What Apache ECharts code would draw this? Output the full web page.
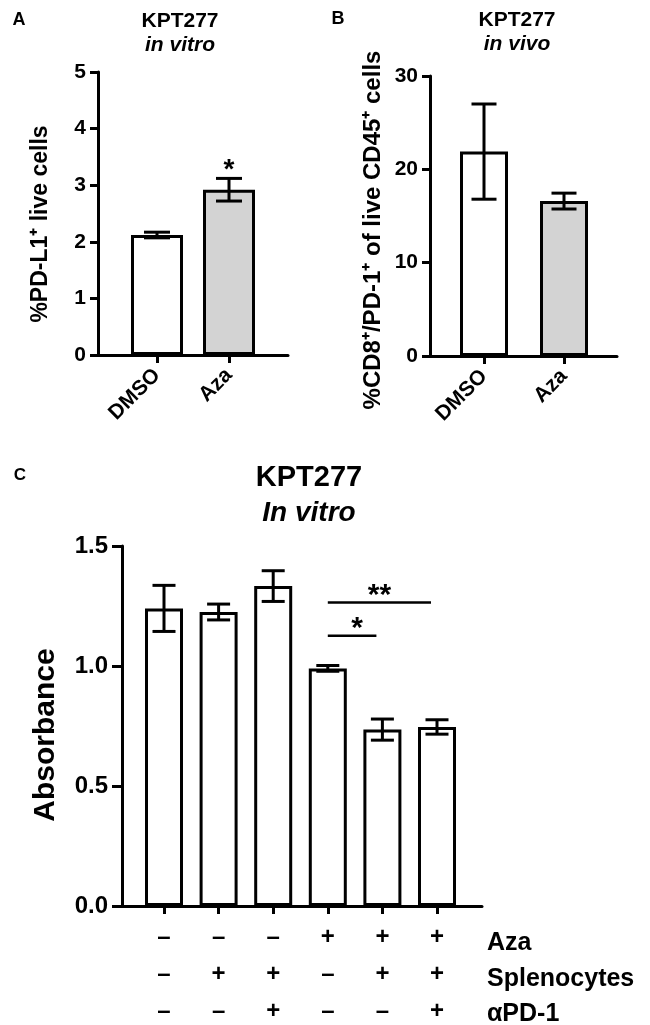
<!DOCTYPE html>
<html>
<head>
<meta charset="utf-8">
<script src="https://cdn.jsdelivr.net/npm/echarts@6/dist/echarts.min.js"></script>
<style>html,body{margin:0;padding:0;background:#fff}#c{width:650px;height:1025px}</style>
</head>
<body>
<div id="c"></div>
<script>
// ---- data ----
const catsA = ['DMSO', 'Aza'];
const meanA = [2.12, 2.92];
const errA  = [0.05, 0.20];
const starA = ['', '*'];

const catsB = ['DMSO', 'Aza'];
const meanB = [21.9, 16.6];
const errB  = [5.1, 0.85];

const condAza = ['–', '–', '–', '+', '+', '+'];
const condSpl = ['–', '+', '+', '–', '+', '+'];
const condPD1 = ['–', '–', '+', '–', '–', '+'];
const rowNames = ['Aza', 'Splenocytes', 'αPD-1'];
const meanC = [1.24, 1.225, 1.333, 0.99, 0.735, 0.746];
const errC  = [0.096, 0.033, 0.064, 0.012, 0.044, 0.03];
const sigFrom = [3, 3];
const sigTo   = [4, 5];
const sigY    = [1.126, 1.265];
const sigLbl  = ['*', '**'];

const ticksA = [0, 1, 2, 3, 4, 5];
const ticksB = [0, 10, 20, 30];
const ticksC = [0, 0.5, 1.0, 1.5];

const fillA = ['#ffffff', '#d3d3d3'];
const fillB = ['#ffffff', '#d3d3d3'];

const nameA = '%PD-L1⁺ live cells';
const nameB = '%CD8⁺/PD-1⁺ of live CD45⁺ cells';
const nameC = 'Absorbance';

// ---- chart ----
const FF = '"Liberation Sans", Arial, Helvetica, sans-serif';
const chart = echarts.init(document.getElementById('c'), null, {renderer: 'canvas'});

function errRender(capW, lw, stars, starSize) {
  return function (params, api) {
    const i = api.value(0), m = api.value(1), e = api.value(2);
    const t = api.coord([i, m + e]);
    const b = api.coord([i, m - e]);
    const st = {stroke: '#000', lineWidth: lw};
    const ch = [
      {type: 'line', shape: {x1: t[0], y1: t[1], x2: b[0], y2: b[1]}, style: st},
      {type: 'line', shape: {x1: t[0] - capW / 2, y1: t[1], x2: t[0] + capW / 2, y2: t[1]}, style: st},
      {type: 'line', shape: {x1: b[0] - capW / 2, y1: b[1], x2: b[0] + capW / 2, y2: b[1]}, style: st}
    ];
    if (stars && stars[params.dataIndex]) {
      ch.push({type: 'text', x: t[0], y: t[1] + 6, style: {text: stars[params.dataIndex], textAlign: 'center', textVerticalAlign: 'bottom', font: 'bold ' + starSize + 'px ' + FF, fill: '#000'}});
    }
    return {type: 'group', children: ch};
  };
}

function sigRender(params, api) {
  const a = api.coord([api.value(0), api.value(2)]);
  const b = api.coord([api.value(1), api.value(2)]);
  const x2 = b[0] - 6;
  return {type: 'group', children: [
    {type: 'line', shape: {x1: a[0], y1: a[1], x2: x2, y2: a[1]}, style: {stroke: '#000', lineWidth: 2.5}},
    {type: 'text', x: (a[0] + x2) / 2 + (params.dataIndex === 0 ? 5 : 0), y: a[1] + 8, style: {text: sigLbl[params.dataIndex], textAlign: 'center', textVerticalAlign: 'bottom', font: 'bold 30px ' + FF, fill: '#000'}}
  ]};
}

const lineAxis = (gi) => ({gridIndex: gi, type: 'value', min: 0, max: 1,
  axisLine: {show: true, lineStyle: {color: '#000', width: 3}}, axisTick: {show: false},
  axisLabel: {show: false}, splitLine: {show: false}});

const catAxis = (gi, data, lbl) => Object.assign({gridIndex: gi, type: 'category', data: data,
  axisLine: {show: false}, axisTick: {show: true, alignWithLabel: true, length: 8, lineStyle: {color: '#000', width: 3}},
  splitLine: {show: false}}, lbl);

const valAxis = (gi, min, max, iv, fs, tl, fmt) => ({gridIndex: gi, type: 'value', min: min, max: max, interval: iv,
  axisLine: {show: true, lineStyle: {color: '#000', width: 3}},
  axisTick: {show: true, length: tl, lineStyle: {color: '#000', width: 3}},
  axisLabel: {color: '#000', fontSize: fs, fontWeight: 'bold', fontFamily: FF, margin: tl + 4, formatter: fmt},
  splitLine: {show: false}});

const hidVal = (gi, min, max) => ({gridIndex: gi, type: 'value', min: min, max: max, show: false});

const rotLbl = {rotate: 45, color: '#000', fontSize: 21, fontWeight: 'bold', fontFamily: FF, margin: 17};

const txt = (x, y, text, font, extra) => ({type: 'text', x: x, y: y, rotation: (extra && extra.rot) || 0,
  style: {text: text, textAlign: (extra && extra.align) || 'center', textVerticalAlign: 'middle', font: font + ' ' + FF, fill: '#000'}});

const g = (l, t, w, h) => ({left: l, top: t, width: w, height: h, containLabel: false, outerBoundsMode: 'none'});

const option = {
  backgroundColor: '#fff',
  animation: false,
  grid: [
    g(98, 72, 190, 283),
    g(121, 72, 144, 283),
    g(430, 76, 187, 280),
    g(444, 76, 160, 280),
    g(122, 546, 360, 360),
    g(136.7, 546, 327.6, 360)
  ],
  xAxis: [
    lineAxis(0),
    catAxis(1, catsA, {axisLabel: rotLbl}),
    lineAxis(2),
    catAxis(3, catsB, {axisLabel: rotLbl}),
    lineAxis(4),
    catAxis(5, condAza.map((_, i) => String(i)), {axisLabel: {color: '#000', fontSize: 24, fontWeight: 'bold', fontFamily: FF, margin: 13, lineHeight: 37,
      formatter: (v, i) => condAza[i] + '\n' + condSpl[i] + '\n' + condPD1[i]}})
  ],
  yAxis: [
    valAxis(0, ticksA[0], ticksA[ticksA.length - 1], 1, 21, 8),
    hidVal(1, ticksA[0], ticksA[ticksA.length - 1]),
    valAxis(2, ticksB[0], ticksB[ticksB.length - 1], 10, 21, 8),
    hidVal(3, ticksB[0], ticksB[ticksB.length - 1]),
    valAxis(4, ticksC[0], ticksC[ticksC.length - 1], 0.5, 24, 10, v => v.toFixed(1)),
    hidVal(5, ticksC[0], ticksC[ticksC.length - 1])
  ],
  series: [
    {type: 'bar', xAxisIndex: 1, yAxisIndex: 1, barWidth: 52,
      data: meanA.map((v, i) => ({value: v, itemStyle: {color: fillA[i]}})),
      itemStyle: {borderColor: '#000', borderWidth: 3}},
    {type: 'custom', xAxisIndex: 1, yAxisIndex: 1, z: 5, renderItem: errRender(26, 3, starA, 28),
      data: meanA.map((v, i) => [i, v, errA[i]]), encode: {x: 0, y: 1}},
    {type: 'bar', xAxisIndex: 3, yAxisIndex: 3, barWidth: 48,
      data: meanB.map((v, i) => ({value: v, itemStyle: {color: fillB[i]}})),
      itemStyle: {borderColor: '#000', borderWidth: 3}},
    {type: 'custom', xAxisIndex: 3, yAxisIndex: 3, z: 5, renderItem: errRender(25, 3, null, 0),
      data: meanB.map((v, i) => [i, v, errB[i]]), encode: {x: 0, y: 1}},
    {type: 'bar', xAxisIndex: 5, yAxisIndex: 5, barWidth: 38,
      data: meanC, itemStyle: {color: '#fff', borderColor: '#000', borderWidth: 3}},
    {type: 'custom', xAxisIndex: 5, yAxisIndex: 5, z: 5, renderItem: errRender(23, 3, null, 0),
      data: meanC.map((v, i) => [i, v, errC[i]]), encode: {x: 0, y: 1}},
    {type: 'custom', xAxisIndex: 5, yAxisIndex: 5, z: 5, renderItem: sigRender,
      data: sigY.map((v, i) => [sigFrom[i], sigTo[i], v]), encode: {x: [0, 1], y: 2}}
  ],
  graphic: [
    txt(19, 20, 'A', 'bold 18px'),
    txt(180, 21, 'KPT277', 'bold 21px'),
    txt(180, 45, 'in vitro', 'italic bold 21px'),
    txt(338, 19, 'B', 'bold 18px'),
    txt(517, 20, 'KPT277', 'bold 21px'),
    txt(517, 44, 'in vivo', 'italic bold 21px'),
    txt(20, 475, 'C', 'bold 17px'),
    txt(309, 478, 'KPT277', 'bold 29px'),
    txt(309, 513, 'In vitro', 'italic bold 28px'),
    txt(41, 224, nameA, 'bold 23px', {rot: Math.PI / 2}),
    txt(373, 230, nameB, 'bold 24px', {rot: Math.PI / 2}),
    txt(46, 735, nameC, 'bold 30px', {rot: Math.PI / 2}),
    txt(487, 943, rowNames[0], 'bold 25px', {align: 'left'}),
    txt(487, 979, rowNames[1], 'bold 25px', {align: 'left'}),
    txt(487, 1014, rowNames[2], 'bold 25px', {align: 'left'})
  ]
};
chart.setOption(option);
</script>
</body>
</html>
